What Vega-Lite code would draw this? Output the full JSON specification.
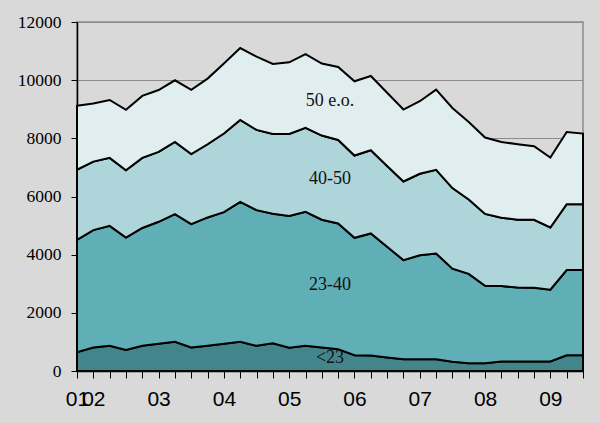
{
  "$schema": "https://vega.github.io/schema/vega-lite/v6.json",
  "width": 506,
  "height": 349,
  "autosize": {"type": "none"},
  "padding": {"left": 77, "top": 22, "right": 17, "bottom": 52},
  "background": "#d9d9d9",
  "config": {"view": {"stroke": "#8c8c8c", "strokeWidth": 1.5}},
  "data": {"values": [
    {"t": 2001.75, "s1": 650, "s2": 3860, "s3": 2410, "s4": 2200},
    {"t": 2002, "s1": 808, "s2": 4035, "s3": 2357, "s4": 1995},
    {"t": 2002.25, "s1": 870, "s2": 4122, "s3": 2336, "s4": 1992},
    {"t": 2002.5, "s1": 721, "s2": 3864, "s3": 2319, "s4": 2076},
    {"t": 2002.75, "s1": 865, "s2": 4053, "s3": 2410, "s4": 2132},
    {"t": 2003, "s1": 940, "s2": 4190, "s3": 2403, "s4": 2127},
    {"t": 2003.25, "s1": 1007, "s2": 4386, "s3": 2483, "s4": 2120},
    {"t": 2003.5, "s1": 808, "s2": 4241, "s3": 2411, "s4": 2210},
    {"t": 2003.75, "s1": 870, "s2": 4410, "s3": 2517, "s4": 2257},
    {"t": 2004, "s1": 940, "s2": 4520, "s3": 2705, "s4": 2405},
    {"t": 2004.25, "s1": 1007, "s2": 4809, "s3": 2819, "s4": 2470},
    {"t": 2004.5, "s1": 865, "s2": 4665, "s3": 2760, "s4": 2520},
    {"t": 2004.75, "s1": 950, "s2": 4455, "s3": 2742, "s4": 2409},
    {"t": 2005, "s1": 801, "s2": 4529, "s3": 2817, "s4": 2467},
    {"t": 2005.25, "s1": 870, "s2": 4603, "s3": 2885, "s4": 2541},
    {"t": 2005.5, "s1": 808, "s2": 4392, "s3": 2895, "s4": 2475},
    {"t": 2005.75, "s1": 750, "s2": 4322, "s3": 2873, "s4": 2508},
    {"t": 2006, "s1": 540, "s2": 4040, "s3": 2828, "s4": 2554},
    {"t": 2006.25, "s1": 535, "s2": 4194, "s3": 2862, "s4": 2553},
    {"t": 2006.5, "s1": 465, "s2": 3806, "s3": 2779, "s4": 2516},
    {"t": 2006.75, "s1": 400, "s2": 3413, "s3": 2702, "s4": 2474},
    {"t": 2007, "s1": 400, "s2": 3580, "s3": 2800, "s4": 2495},
    {"t": 2007.25, "s1": 400, "s2": 3642, "s3": 2874, "s4": 2760},
    {"t": 2007.5, "s1": 320, "s2": 3200, "s3": 2770, "s4": 2754},
    {"t": 2007.75, "s1": 264, "s2": 3076, "s3": 2557, "s4": 2667},
    {"t": 2008, "s1": 264, "s2": 2667, "s3": 2469, "s4": 2628},
    {"t": 2008.25, "s1": 330, "s2": 2590, "s3": 2350, "s4": 2606},
    {"t": 2008.5, "s1": 330, "s2": 2538, "s3": 2332, "s4": 2597},
    {"t": 2008.75, "s1": 330, "s2": 2532, "s3": 2338, "s4": 2529},
    {"t": 2009, "s1": 330, "s2": 2465, "s3": 2140, "s4": 2406},
    {"t": 2009.25, "s1": 540, "s2": 2929, "s3": 2267, "s4": 2484},
    {"t": 2009.5, "s1": 540, "s2": 2929, "s3": 2267, "s4": 2429}
  ]},
  "encoding": {
    "x": {
      "field": "t", "type": "quantitative", "title": null,
      "scale": {"domain": [2001.75, 2009.5], "nice": false, "zero": false},
      "axis": {
        "title": null,
        "grid": false,
        "values": [2001.75, 2002, 2002.25, 2002.5, 2002.75, 2003, 2003.25, 2003.5, 2003.75, 2004, 2004.25, 2004.5, 2004.75, 2005, 2005.25, 2005.5, 2005.75, 2006, 2006.25, 2006.5, 2006.75, 2007, 2007.25, 2007.5, 2007.75, 2008, 2008.25, 2008.5, 2008.75, 2009, 2009.25, 2009.5],
        "labelExpr": "datum.value == 2001.75 ? '01' : (datum.value % 1 == 0 ? slice(toString(datum.value), 2) : '')",
        "domainColor": "black", "domainWidth": 1.5,
        "tickColor": "black", "tickSize": 7, "tickWidth": 1,
        "labelFont": "Liberation Sans", "labelFontSize": 21, "labelColor": "black",
        "labelPadding": 10, "labelOverlap": false, "labelFlush": false, "labelBound": false
      }
    }
  },
  "layer": [
    {
      "transform": [{"fold": ["s1", "s2", "s3", "s4"], "as": ["k", "v"]}],
      "mark": {"type": "area", "stroke": "black", "strokeWidth": 2, "strokeJoin": "miter"},
      "encoding": {
        "y": {
          "field": "v", "type": "quantitative", "stack": "zero", "title": null,
          "scale": {"domain": [0, 12000], "nice": false},
          "axis": {
            "title": null,
            "values": [0, 2000, 4000, 6000, 8000, 10000, 12000],
            "format": "d",
            "grid": true, "gridColor": "#8c8c8c", "gridWidth": 1.2,
            "domainColor": "black", "domainWidth": 1.5,
            "tickColor": "black", "tickSize": 6, "tickWidth": 1,
            "labelFont": "Liberation Serif", "labelFontSize": 17.5, "labelColor": "black",
            "labelPadding": 10
          }
        },
        "color": {
          "field": "k", "type": "nominal",
          "scale": {"domain": ["s1", "s2", "s3", "s4"], "range": ["#42868c", "#60aeb6", "#aed5da", "#e0eef0"]},
          "legend": null
        },
        "order": {"field": "k", "sort": "ascending"}
      }
    },
    {
      "data": {"values": [
        {"t": 2005.625, "v": 9275, "label": "50 e.o."},
        {"t": 2005.625, "v": 6595, "label": "40-50"},
        {"t": 2005.625, "v": 2971, "label": "23-40"},
        {"t": 2005.625, "v": 430, "label": "<23"}
      ]},
      "mark": {"type": "text", "font": "Liberation Serif", "fontSize": 18, "color": "#111111", "align": "center", "baseline": "middle"},
      "encoding": {
        "y": {
          "field": "v", "type": "quantitative", "stack": null, "title": null,
          "scale": {"domain": [0, 12000], "nice": false},
          "axis": {
            "title": null,
            "values": [0, 2000, 4000, 6000, 8000, 10000, 12000],
            "format": "d",
            "grid": true, "gridColor": "#8c8c8c", "gridWidth": 1.2,
            "domainColor": "black", "domainWidth": 1.5,
            "tickColor": "black", "tickSize": 6, "tickWidth": 1,
            "labelFont": "Liberation Serif", "labelFontSize": 17.5, "labelColor": "black",
            "labelPadding": 10
          }
        },
        "text": {"field": "label"}
      }
    }
  ]
}
